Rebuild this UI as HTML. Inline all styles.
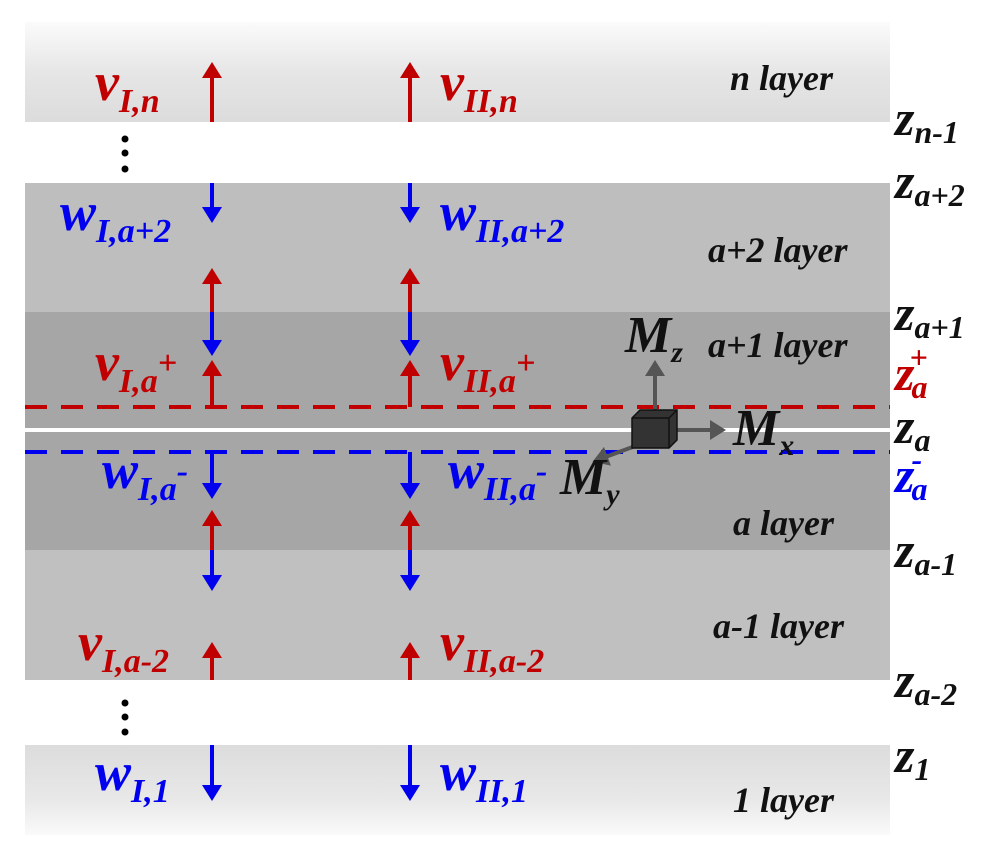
<!DOCTYPE html>
<html><head><style>body{margin:0;background:#fff}svg{display:block}</style></head><body>
<svg width="1000" height="852" viewBox="0 0 1000 852" xmlns="http://www.w3.org/2000/svg" font-family="Liberation Serif, serif" font-weight="bold" font-style="italic">
<defs>
<linearGradient id="gt" x1="0" y1="0" x2="0" y2="1"><stop offset="0" stop-color="#fbfbfb"/><stop offset="0.5" stop-color="#e6e6e6"/><stop offset="1" stop-color="#dcdcdc"/></linearGradient>
<linearGradient id="gb" x1="0" y1="0" x2="0" y2="1"><stop offset="0" stop-color="#dcdcdc"/><stop offset="0.6" stop-color="#e8e8e8"/><stop offset="1" stop-color="#fafafa"/></linearGradient>
<marker id="hr" markerWidth="4" markerHeight="5" refX="2" refY="2.5" orient="auto" markerUnits="strokeWidth"><path d="M0,0 L4,2.5 L0,5z" fill="#c00000"/></marker>
<marker id="hb" markerWidth="4" markerHeight="5" refX="2" refY="2.5" orient="auto" markerUnits="strokeWidth"><path d="M0,0 L4,2.5 L0,5z" fill="#0000ee"/></marker>
<marker id="hg" markerWidth="4" markerHeight="5" refX="2" refY="2.5" orient="auto" markerUnits="strokeWidth"><path d="M0,0 L4,2.5 L0,5z" fill="#555"/></marker>
</defs>
<rect x="25" y="22" width="865" height="100" fill="url(#gt)"/>
<rect x="25" y="183" width="865" height="129" fill="#bebebe"/>
<rect x="25" y="312" width="865" height="116" fill="#a6a6a6"/>
<rect x="25" y="432" width="865" height="118" fill="#a6a6a6"/>
<rect x="25" y="550" width="865" height="130" fill="#c0c0c0"/>
<rect x="25" y="745" width="865" height="90" fill="url(#gb)"/>
<line x1="25" y1="407" x2="890" y2="407" stroke="#c00000" stroke-width="4" stroke-dasharray="22,14"/>
<line x1="25" y1="452" x2="890" y2="452" stroke="#0000ee" stroke-width="4" stroke-dasharray="22,14"/>
<g fill="#000"><circle cx="125" cy="139" r="3.5"/><circle cx="125" cy="153" r="3.5"/><circle cx="125" cy="169" r="3.5"/>
<circle cx="125" cy="703" r="3.5"/><circle cx="125" cy="717" r="3.5"/><circle cx="125" cy="732" r="3.5"/></g>
<g stroke-width="4">
<g id="arr">
<line x1="212" y1="122" x2="212" y2="70" stroke="#c00000" marker-end="url(#hr)"/>
<line x1="212" y1="183" x2="212" y2="215" stroke="#0000ee" marker-end="url(#hb)"/>
<line x1="212" y1="312" x2="212" y2="276" stroke="#c00000" marker-end="url(#hr)"/>
<line x1="212" y1="312" x2="212" y2="348" stroke="#0000ee" marker-end="url(#hb)"/>
<line x1="212" y1="407" x2="212" y2="368" stroke="#c00000" marker-end="url(#hr)"/>
<line x1="212" y1="452" x2="212" y2="491" stroke="#0000ee" marker-end="url(#hb)"/>
<line x1="212" y1="550" x2="212" y2="518" stroke="#c00000" marker-end="url(#hr)"/>
<line x1="212" y1="550" x2="212" y2="583" stroke="#0000ee" marker-end="url(#hb)"/>
<line x1="212" y1="680" x2="212" y2="650" stroke="#c00000" marker-end="url(#hr)"/>
<line x1="212" y1="745" x2="212" y2="793" stroke="#0000ee" marker-end="url(#hb)"/>
</g>
<use href="#arr" x="198"/>
</g>
<g stroke="#555" stroke-width="4">
<line x1="655" y1="415" x2="655" y2="368" marker-end="url(#hg)"/>
<line x1="670" y1="430" x2="718" y2="430" marker-end="url(#hg)"/>
<line x1="638" y1="445" x2="600" y2="459" marker-end="url(#hg)"/>
</g>
<path d="M632,418 L640,410 L677,410 L677,440 L669,448 L632,448z" fill="#333" stroke="#111" stroke-width="1.5"/>
<path d="M632,418 L669,418 L677,410 M669,418 L669,448" fill="none" stroke="#111" stroke-width="1.5"/>
<g font-size="54" fill="#c00000">
<text x="95" y="100">v<tspan font-size="34" dy="12">I,n</tspan></text>
<text x="440" y="100">v<tspan font-size="34" dy="12">II,n</tspan></text>
<text x="95" y="380">v<tspan font-size="34" dy="12">I,a</tspan><tspan font-size="34" dy="-18">+</tspan></text>
<text x="440" y="380">v<tspan font-size="34" dy="12">II,a</tspan><tspan font-size="34" dy="-18">+</tspan></text>
<text x="78" y="660">v<tspan font-size="34" dy="12">I,a-2</tspan></text>
<text x="440" y="660">v<tspan font-size="34" dy="12">II,a-2</tspan></text>
</g>
<g font-size="54" fill="#0000ee">
<text x="60" y="230">w<tspan font-size="34" dy="12">I,a+2</tspan></text>
<text x="440" y="230">w<tspan font-size="34" dy="12">II,a+2</tspan></text>
<text x="102" y="488">w<tspan font-size="34" dy="12">I,a</tspan><tspan font-size="34" dy="-18">-</tspan></text>
<text x="448" y="488">w<tspan font-size="34" dy="12">II,a</tspan><tspan font-size="34" dy="-18">-</tspan></text>
<text x="95" y="790">w<tspan font-size="34" dy="12">I,1</tspan></text>
<text x="440" y="790">w<tspan font-size="34" dy="12">II,1</tspan></text>
</g>
<g font-size="36" fill="#111">
<text x="730" y="90">n layer</text>
<text x="708" y="262">a+2 layer</text>
<text x="708" y="357">a+1 layer</text>
<text x="733" y="535">a layer</text>
<text x="713" y="638">a-1 layer</text>
<text x="733" y="812">1 layer</text>
</g>
<g font-size="52" fill="#111">
<text x="625" y="352">M<tspan font-size="30" dy="10">z</tspan></text>
<text x="733" y="445">M<tspan font-size="30" dy="10">x</tspan></text>
<text x="560" y="494">M<tspan font-size="30" dy="10">y</tspan></text>
</g>
<g font-size="50" fill="#111">
<text x="895" y="135">z<tspan font-size="32" dy="8">n-1</tspan></text>
<text x="895" y="198">z<tspan font-size="32" dy="8">a+2</tspan></text>
<text x="895" y="330">z<tspan font-size="32" dy="8">a+1</tspan></text>
<text x="895" y="443">z<tspan font-size="32" dy="8">a</tspan></text>
<text x="895" y="567">z<tspan font-size="32" dy="8">a-1</tspan></text>
<text x="895" y="697">z<tspan font-size="32" dy="8">a-2</tspan></text>
<text x="895" y="772">z<tspan font-size="32" dy="8">1</tspan></text>
</g>
<text x="895" y="390" font-size="50" fill="#c00000">z<tspan font-size="32" dx="-3" dy="8">a</tspan><tspan font-size="32" dx="-18" dy="-30">+</tspan></text>
<text x="895" y="492" font-size="50" fill="#0000ee">z<tspan font-size="32" dx="-3" dy="8">a</tspan><tspan font-size="32" dx="-16" dy="-30">-</tspan></text>
</svg>
</body></html>
